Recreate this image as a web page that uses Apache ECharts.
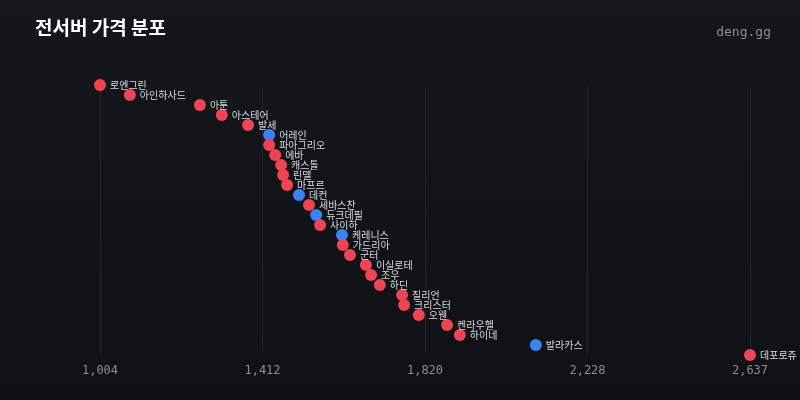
<!DOCTYPE html>
<html><head><meta charset="utf-8">
<script src="https://cdn.jsdelivr.net/npm/echarts@6/dist/echarts.min.js"></script>
<style>html,body{margin:0;background:#0f1216}#main{width:800px;height:400px}</style>
</head><body><div id="main"></div>
<script>
var servers = ['로엔그린','아인하사드','아툰','아스테어','발세','어레인','파아그리오','에바','캐스톨','린델','마프르','데컨','세바스찬','듀크데필','사이하','케레니스','가드리아','군터','이실로테','조우','하딘','질리언','크리스터','오웬','켄라우헬','하이네','발라카스','데포로쥬'];
var prices = [1004,1079,1255,1310,1376,1429,1429,1444,1459,1464,1474,1504,1529,1547,1557,1612,1614,1632,1672,1685,1707,1763,1768,1805,1876,1908,2099,2637];
var blueServers = ['어레인','데컨','듀크데필','케레니스','발라카스'];

var myChart = echarts.init(document.getElementById('main'));
var minV = 1004, maxV = 2637;
var option = {
  backgroundColor: {type:'linear',x:0,y:0,x2:0,y2:1,colorStops:[{offset:0,color:'#14171c'},{offset:1,color:'#0e1115'}]},
  title: [
    {text:'전서버 가격 분포', left:30, top:13, textStyle:{color:'#ffffff',fontSize:19,fontWeight:'bold',fontFamily:'Noto Sans CJK KR'}},
    {text:'deng.gg', right:24, top:21, textStyle:{color:'#8a8f98',fontSize:13,fontWeight:'normal',fontFamily:'DejaVu Sans Mono'}}
  ],
  grid: {left:100, right:50, top:85, bottom:45, containLabel:false},
  xAxis: {
    type:'value', min:minV, max:maxV, interval:(maxV-minV)/4,
    axisLine:{show:false}, axisTick:{show:false},
    splitLine:{lineStyle:{color:'#22262d'}},
    axisLabel:{color:'#8a8f98', fontFamily:'DejaVu Sans Mono', fontSize:12, margin:10,
      formatter:function(v){return Math.floor(v).toLocaleString('en-US');}}
  },
  yAxis: {type:'category', data:servers, inverse:true, boundaryGap:false, show:false},
  series: [{
    type:'scatter', symbolSize:12,
    data: prices.map(function(p,i){
      return {value:[p, servers[i]], itemStyle:{opacity:1, color: blueServers.indexOf(servers[i])>=0 ? '#3b82f6' : '#f04452'}};
    }),
    label:{show:true, position:'right', distance:4, color:'#d8dbe0', fontSize:10, fontFamily:'Noto Sans CJK KR',
      formatter:function(p){return p.value[1];}}
  }]
};
myChart.setOption(option);
</script></body></html>
